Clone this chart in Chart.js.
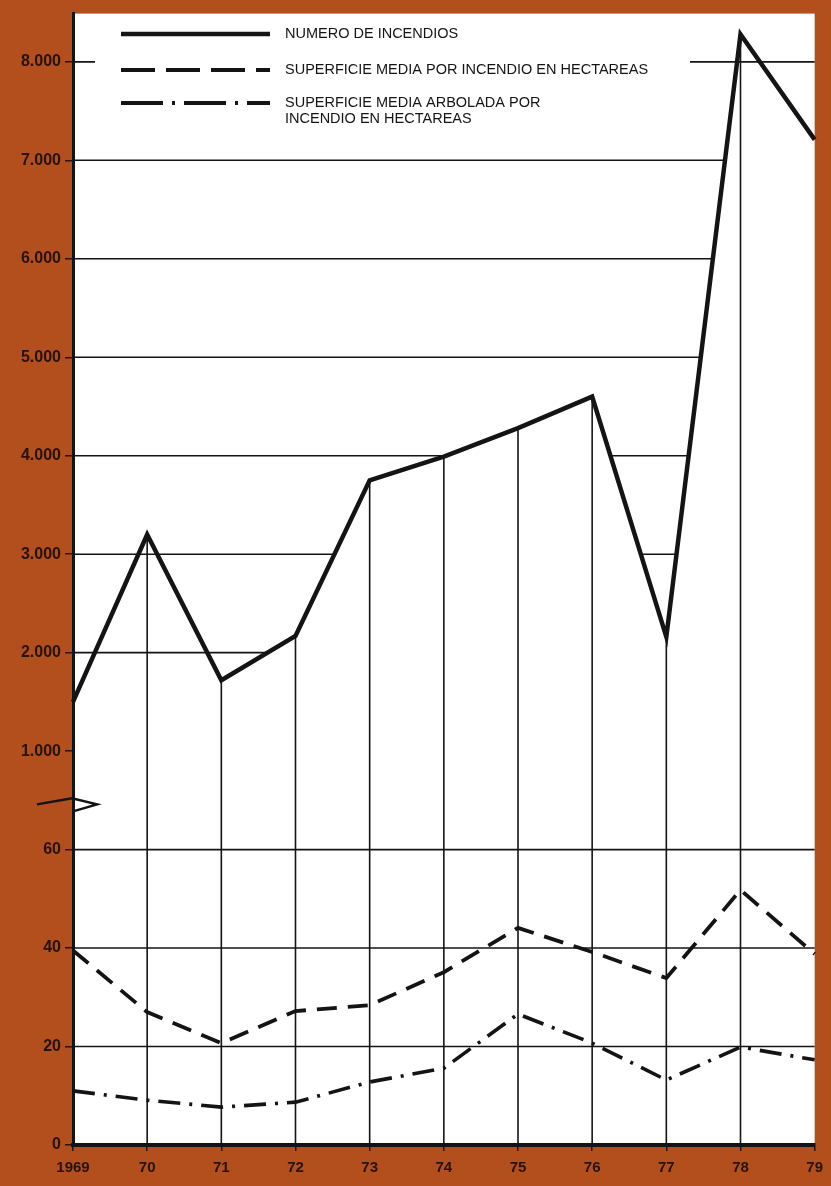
<!doctype html>
<html>
<head>
<meta charset="UTF-8">
<title>Incendios forestales 1969-79</title>
<script src="https://cdn.jsdelivr.net/npm/chart.js@4.4.1/dist/chart.umd.min.js"></script>
<style>
body{
	margin:0;
	background:#B24F1C;
}
.marco{
	position:relative;
	width:831px;
	height:1186px;
}
</style>
</head>
<body>

<div class="marco"><canvas id="grafico"></canvas></div>

<script>

// datos
var anos = ['1969', '70', '71', '72', '73', '74', '75', '76', '77', '78', '79'];
var numeroIncendios = [1500, 3200, 1720, 2170, 3750, 3990, 4280, 4600, 2160, 8280, 7210];
var superficieMedia = [39.5, 27.0, 20.7, 27.2, 28.4, 35.1, 44.1, 39.2, 33.9, 51.8, 38.8];
var superficieArbolada = [11.0, 9.1, 7.7, 8.7, 12.8, 15.6, 26.6, 20.7, 13.2, 19.9, 17.3];

// escala cortada: abajo hectareas, arriba numero de incendios
var ticksHectareas = [0, 20, 40, 60];
var ticksIncendios = [1000, 2000, 3000, 4000, 5000, 6000, 7000, 8000];

var tinta = '#141414';
var rotulos = '#26130a';

function formatoMiles(n){
	return String(n).replace(/\B(?=(\d{3})+(?!\d))/g, '.');
}

// tramos (en indice de categoria) donde la linea de incendios queda por debajo de v
function tramosBajo(v){
	var out = [];
	for (var i = 0; i < numeroIncendios.length - 1; i++) {
		var a = numeroIncendios[i], b = numeroIncendios[i + 1], s = null;
		if (a < v && b < v) s = [i, i + 1];
		else if (a < v && b >= v) s = [i, i + (v - a) / (b - a)];
		else if (a >= v && b < v) s = [i + (a - v) / (a - b), i + 1];
		if (!s) continue;
		var ult = out[out.length - 1];
		if (ult && s[0] - ult[1] < 1.6) ult[1] = Math.max(ult[1], s[1]);
		else out.push(s);
	}
	return out;
}

function linea(ctx, x1, y1, x2, y2){
	ctx.beginPath();
	ctx.moveTo(x1, y1);
	ctx.lineTo(x2, y2);
	ctx.stroke();
}

var rejilla = {
	id: 'rejilla',
	beforeDraw: function(chart){
		var a = chart.chartArea, ctx = chart.ctx;
		ctx.save();
		ctx.fillStyle = '#ffffff';
		ctx.fillRect(a.left, a.top, a.right - a.left, a.bottom - a.top);
		ctx.restore();
	},
	beforeDatasetsDraw: function(chart){
		var ctx = chart.ctx, a = chart.chartArea;
		var x = chart.scales.x, y = chart.scales.y, y2 = chart.scales.y2;
		ctx.save();
		ctx.strokeStyle = tinta;
		ctx.lineWidth = 1.6;

		ticksHectareas.forEach(function(v){
			if (v === 0) return;
			var py = y.getPixelForValue(v);
			linea(ctx, a.left, py, a.right, py);
		});

		ticksIncendios.forEach(function(v){
			var py = y2.getPixelForValue(v);
			tramosBajo(v).forEach(function(s){
				linea(ctx, x.getPixelForValue(s[0]), py, x.getPixelForValue(s[1]), py);
			});
		});

		// verticales desde el eje hasta la linea de incendios
		for (var i = 1; i < anos.length - 1; i++) {
			var px = x.getPixelForValue(i);
			linea(ctx, px, a.bottom, px, y2.getPixelForValue(numeroIncendios[i]));
		}
		ctx.restore();
	},
	afterDraw: function(chart){
		var ctx = chart.ctx, a = chart.chartArea, y = chart.scales.y;

		// simbolo de corte del eje
		var pc = (y.getPixelForValue(60) + chart.scales.y2.getPixelForValue(ticksIncendios[0])) / 2;
		ctx.save();
		ctx.strokeStyle = tinta;
		ctx.lineWidth = 2.5;
		ctx.lineJoin = 'miter';
		ctx.beginPath();
		ctx.moveTo(a.left - 36, pc + 4);
		ctx.lineTo(a.left - 1, pc - 2);
		ctx.lineTo(a.left + 24, pc + 4);
		ctx.lineTo(a.left, pc + 11);
		ctx.stroke();
		ctx.restore();

		// leyenda
		ctx.save();
		ctx.fillStyle = '#ffffff';
		ctx.fillRect(a.left + 22, a.top + 4, 595, 120);
		var filas = [
			{y: 34, dash: [], w: 4.5, txt: ['NUMERO DE INCENDIOS']},
			{y: 70, dash: [34, 11], w: 4, txt: ['SUPERFICIE MEDIA POR INCENDIO EN HECTAREAS']},
			{y: 103, dash: [42, 9, 3, 9], w: 4, txt: ['SUPERFICIE MEDIA ARBOLADA POR', 'INCENDIO EN HECTAREAS']}
		];
		ctx.strokeStyle = tinta;
		ctx.fillStyle = tinta;
		ctx.font = '14.5px "Liberation Sans", Arial, sans-serif';
		ctx.textBaseline = 'middle';
		filas.forEach(function(f){
			ctx.lineWidth = f.w;
			ctx.setLineDash(f.dash);
			linea(ctx, 121, f.y, 270, f.y);
			f.txt.forEach(function(t, k){
				ctx.fillText(t, 285, f.y + k * 16);
			});
		});
		ctx.restore();
	}
};

var ctx = document.getElementById('grafico');
var grafico = new Chart(ctx, {
	type: 'line',
	data: {
		labels: anos,
		datasets: [{
			label: 'NUMERO DE INCENDIOS',
			data: numeroIncendios,
			yAxisID: 'y2',
			borderColor: tinta,
			borderWidth: 4.5,
			borderJoinStyle: 'miter',
			pointRadius: 0,
			tension: 0
		}, {
			label: 'SUPERFICIE MEDIA POR INCENDIO EN HECTAREAS',
			data: superficieMedia,
			yAxisID: 'y',
			borderColor: tinta,
			borderWidth: 3.8,
			borderDash: [20, 11],
			pointRadius: 0,
			tension: 0
		}, {
			label: 'SUPERFICIE MEDIA ARBOLADA POR INCENDIO EN HECTAREAS',
			data: superficieArbolada,
			yAxisID: 'y',
			borderColor: tinta,
			borderWidth: 3.6,
			borderDash: [22, 9, 3, 9],
			pointRadius: 0,
			tension: 0
		}]
	},
	options: {
		responsive: true,
		maintainAspectRatio: false,
		animation: false,
		layout: {padding: {top: 13, right: 16, left: 0, bottom: 0}},
		plugins: {
			legend: {display: false},
			tooltip: {enabled: false}
		},
		scales: {
			x: {
				offset: false,
				grid: {drawOnChartArea: false, tickLength: 6, tickColor: rotulos, lineWidth: 1.5},
				border: {color: tinta, width: 4},
				ticks: {
					color: rotulos,
					font: {family: '"Liberation Sans", Arial, sans-serif', weight: 'bold', size: 15},
					padding: 8,
					maxRotation: 0,
					autoSkip: false
				},
				afterFit: function(s){ s.height = 41; }
			},
			y: {
				position: 'left',
				min: 0,
				max: 229.8,
				afterBuildTicks: function(s){
					var vals = ticksHectareas.slice();
					ticksIncendios.forEach(function(n, i){ vals.push(80 + i * 20); });
					s.ticks = vals.map(function(v){ return {value: v}; });
				},
				ticks: {
					color: rotulos,
					font: {family: '"Liberation Sans", Arial, sans-serif', weight: 'bold', size: 16},
					padding: 4,
					callback: function(v){
						if (v <= 60) return String(v);
						return formatoMiles(ticksIncendios[(v - 80) / 20]);
					}
				},
				grid: {drawOnChartArea: false, tickLength: 8, tickColor: rotulos, lineWidth: 1.5},
				border: {color: tinta, width: 3},
				afterFit: function(s){ s.width = 73; }
			},
			y2: {
				display: false,
				min: -3000,
				max: 8490
			}
		}
	},
	plugins: [rejilla]
});

</script>

</body>
</html>
